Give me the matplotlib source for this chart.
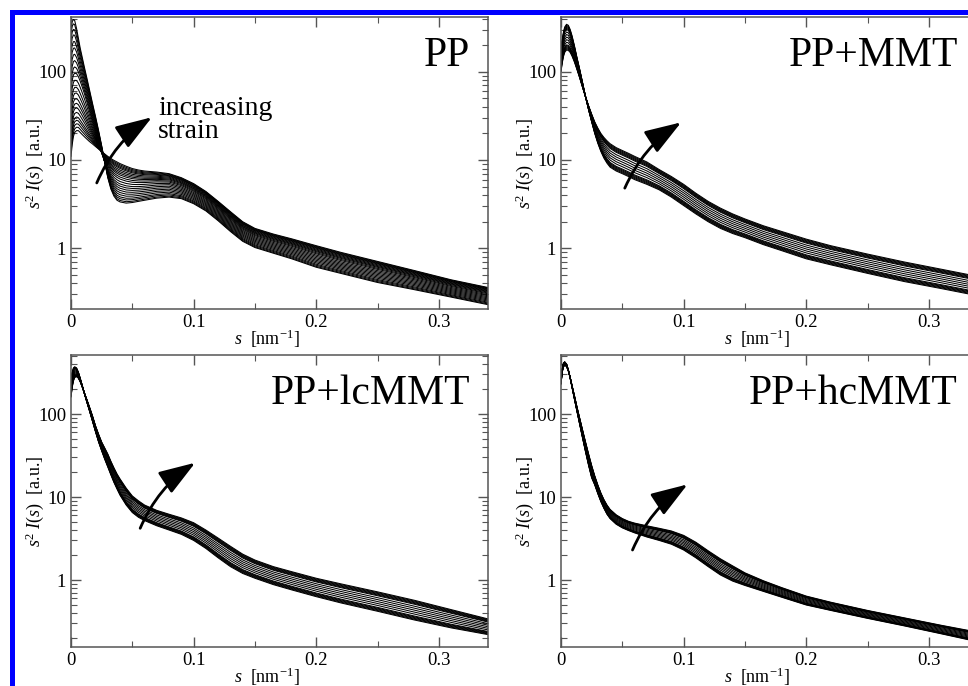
import matplotlib.pyplot as plt
import numpy as np
from matplotlib.patches import Rectangle
from matplotlib.ticker import LogLocator, MultipleLocator, NullFormatter

plt.rcParams['font.family'] = ['Liberation Serif', 'DejaVu Serif']
plt.rcParams['mathtext.fontset'] = 'custom'
plt.rcParams['mathtext.rm'] = 'Liberation Serif'
plt.rcParams['mathtext.it'] = 'Liberation Serif:italic'

# ----------------------------------
# Data
# ----------------------------------
# scattering vector s [nm^-1], shared by all curves
s_grid = [0, 0.001, 0.002, 0.003, 0.0045, 0.006, 0.0075, 0.009, 0.011, 0.013,
          0.015, 0.0175, 0.02, 0.0225, 0.025, 0.0275, 0.03, 0.0325, 0.035, 0.0375,
          0.04, 0.045, 0.05, 0.055, 0.06, 0.07, 0.08, 0.09, 0.1, 0.11,
          0.12, 0.13, 0.14, 0.15, 0.165, 0.18, 0.2, 0.22, 0.25, 0.28,
          0.31, 0.34]

# key frames of each series: lowest strain, (middle), highest strain
pp_first = [300, 370, 390, 380, 310, 240, 185, 149, 111, 84,
            63, 44, 31, 21.5, 14.5, 9.5, 6.3, 4.7, 3.9, 3.5,
            3.35, 3.25, 3.3, 3.4, 3.5, 3.7, 3.8, 3.65, 3.2, 2.65,
            2.05, 1.55, 1.2, 1.02, 0.88, 0.76, 0.61, 0.52, 0.41, 0.34,
            0.28, 0.23]
pp_mid = [60, 80, 92, 96, 95, 88, 78, 68, 56, 45,
          36, 27, 20.5, 15.5, 12, 9.5, 7.8, 6.7, 6.0, 5.6,
          5.35, 5.1, 5.0, 5.0, 5.05, 5.2, 5.25, 4.8, 4.16, 3.4,
          2.64, 2.0, 1.55, 1.31, 1.13, 0.99, 0.81, 0.68, 0.54, 0.44,
          0.35, 0.29]
pp_last = [11, 15, 18.5, 20.5, 21.5, 21.5, 20.5, 19.5, 18.3, 17.2,
           16.2, 15.2, 14.2, 13.3, 12.5, 11.7, 11, 10.4, 9.9, 9.5,
           9.1, 8.5, 8.0, 7.7, 7.5, 7.3, 7.0, 6.3, 5.4, 4.4,
           3.4, 2.6, 2.0, 1.68, 1.45, 1.28, 1.07, 0.9, 0.71, 0.56,
           0.44, 0.36]

mmt_first = [185, 230, 280, 320, 344, 335, 300, 255, 195, 145,
             110, 76, 52, 37, 27, 20, 15.5, 12.5, 10.5, 9.2,
             8.3, 7.5, 7.0, 6.5, 6.0, 5.3, 4.6, 3.8, 3.05, 2.45,
             2.0, 1.68, 1.47, 1.32, 1.1, 0.94, 0.76, 0.65, 0.52, 0.42,
             0.35, 0.29]
mmt_last = [100, 125, 148, 165, 176, 174, 165, 150, 128, 106,
            87, 67, 52, 41, 33, 27, 23, 20, 18, 16.5,
            15.3, 13.8, 12.8, 11.9, 11.0, 9.5, 7.8, 6.5, 5.3, 4.2,
            3.4, 2.85, 2.45, 2.15, 1.8, 1.55, 1.27, 1.07, 0.86, 0.7,
            0.58, 0.48]

lc_first = [250, 320, 360, 371, 360, 320, 270, 225, 175, 138,
            110, 82, 61, 46, 36, 28.5, 23, 18.5, 15, 12.5,
            10.5, 8.0, 6.5, 5.7, 5.2, 4.5, 4.0, 3.55, 3.0, 2.4,
            1.85, 1.45, 1.2, 1.05, 0.88, 0.76, 0.63, 0.53, 0.42, 0.33,
            0.265, 0.22]
lc_last = [160, 210, 250, 275, 282, 270, 245, 215, 178, 148,
           122, 95, 72, 57, 46, 39, 33, 27, 22.5, 19,
           16.5, 12.8, 10.3, 9.0, 8.0, 6.9, 6.2, 5.6, 4.9, 4.0,
           3.2, 2.55, 2.05, 1.74, 1.45, 1.26, 1.05, 0.9, 0.72, 0.57,
           0.44, 0.34]

hc_first = [250, 350, 410, 426, 400, 340, 270, 210, 150, 108,
            78, 52, 35, 24, 17, 14, 11, 8.8, 7.3, 6.2,
            5.5, 4.7, 4.25, 3.95, 3.7, 3.3, 3.0, 2.7, 2.3, 1.85,
            1.45, 1.15, 0.97, 0.86, 0.73, 0.62, 0.5, 0.43, 0.345, 0.28,
            0.225, 0.18]
hc_last = [230, 320, 370, 385, 375, 330, 275, 220, 165, 122,
           92, 65, 46, 33, 24, 18, 14, 11.2, 9.3, 8.0,
           7.1, 6.1, 5.5, 5.1, 4.85, 4.5, 4.2, 3.9, 3.45, 2.85,
           2.25, 1.8, 1.48, 1.22, 0.98, 0.81, 0.64, 0.54, 0.43, 0.35,
           0.285, 0.235]

# relative position of each recorded frame between first and last strain
pp_frames = [0, 0.04, 0.09, 0.14, 0.2, 0.26, 0.32, 0.38, 0.44, 0.5,
             0.56, 0.62, 0.67, 0.72, 0.76, 0.8, 0.84, 0.88, 0.91, 0.94,
             0.97, 1.0]
clay_frames = [0, 0.04, 0.08, 0.12, 0.16, 0.2, 0.3, 0.4, 0.5, 0.6,
               0.7, 0.8, 0.84, 0.88, 0.92, 0.96, 1.0]

panel_names = ["PP", "PP+MMT", "PP+lcMMT", "PP+hcMMT"]
x_ticks = [0, 0.1, 0.2, 0.3]
x_tick_labels = ["0", "0.1", "0.2", "0.3"]
y_ticks = [1, 10, 100]
y_tick_labels = ["1", "10", "100"]

# ----------------------------------
# Layout (pixels of the 968x686 picture)
# ----------------------------------
W, H = 968, 686
fig = plt.figure(figsize=(W / 100, H / 100), dpi=100)

ax_w, ax_h = 417 / W, 292 / H
corners = [(71, 377), (561, 377), (71, 39), (561, 39)]
ylims = [(0.2055, 416), (0.2055, 416), (0.156, 514), (0.156, 514)]
arrows = [((0.021, 5.5), (0.066, 30.5)),
          ((0.052, 4.8), (0.098, 26.7)),
          ((0.0564, 4.2), (0.1013, 25.9)),
          ((0.0583, 2.3), (0.1032, 14.2))]
series = [([pp_first, pp_mid, pp_last], pp_frames),
          ([mmt_first, mmt_last], clay_frames),
          ([lc_first, lc_last], clay_frames),
          ([hc_first, hc_last], clay_frames)]

s = np.array(s_grid)
for i, name in enumerate(panel_names):
    x0, y0 = corners[i]
    ax = fig.add_axes([x0 / W, y0 / H, ax_w, ax_h])

    keys, frames = series[i]
    logs = [np.log(k) for k in keys]
    n = len(logs)
    for w in frames:
        seg = min(int(w * (n - 1)), n - 2)
        t = w * (n - 1) - seg
        y = np.exp((1 - t) * logs[seg] + t * logs[seg + 1])
        ax.plot(s, y, color='black', lw=0.75)

    ax.set_yscale('log')
    ax.set_xlim(0, 0.34)
    ax.set_ylim(*ylims[i])
    ax.set_xticks(x_ticks, labels=x_tick_labels)
    ax.xaxis.set_minor_locator(MultipleLocator(0.05))
    ax.set_yticks(y_ticks, labels=y_tick_labels)
    ax.yaxis.set_minor_locator(LogLocator(base=10, subs=np.arange(2, 10)))
    ax.yaxis.set_minor_formatter(NullFormatter())
    ax.tick_params(which='both', direction='in', top=True, right=True,
                   color='#555555', labelsize=13.5, pad=3.5)
    ax.tick_params(which='major', length=7, width=1)
    ax.tick_params(which='minor', length=4, width=0.8)
    for sp in ax.spines.values():
        sp.set_color('#555555')
        sp.set_linewidth(1.1)

    ax.set_xlabel(r'$s$  [nm$^{-1}$]', fontsize=13)
    ax.xaxis.set_label_coords(0.47, -0.062)
    ax.set_ylabel(r'$s^2$ $I(s)$  [a.u.]', fontsize=13)
    ax.yaxis.set_label_coords(-0.06, 0.5)

    inset = 18 / 417 if i % 2 == 0 else 20 / 417
    ax.text(1 - inset, 0.832, name, transform=ax.transAxes,
            ha='right', va='baseline', fontsize=30)

    tail, tip = arrows[i]
    ax.annotate('', xy=tip, xytext=tail,
                arrowprops=dict(arrowstyle='-|>,head_length=1.6,head_width=0.55',
                                mutation_scale=14, lw=2, color='black',
                                shrinkA=0, shrinkB=0,
                                connectionstyle='arc3,rad=-0.15'))

    if i == 0:
        ax.text(0.2086, 0.664, 'increasing', transform=ax.transAxes,
                ha='left', va='baseline', fontsize=20)
        ax.text(0.2086, 0.587, 'strain', transform=ax.transAxes,
                ha='left', va='baseline', fontsize=20)

# blue frame along the top and left edges
fig.add_artist(Rectangle((10 / W, (H - 15) / H), 1, 5 / H,
                         transform=fig.transFigure, color='#0000ff', lw=0))
fig.add_artist(Rectangle((10 / W, 0), 5 / W, (H - 10) / H,
                         transform=fig.transFigure, color='#0000ff', lw=0))

fig.savefig('out.png', dpi=100)
